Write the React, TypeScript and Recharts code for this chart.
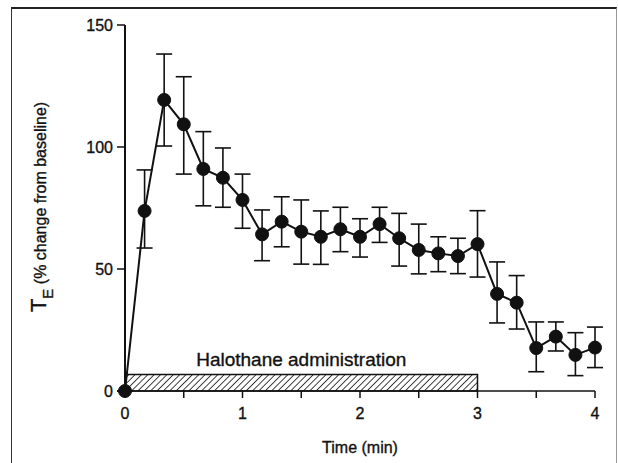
import React from "react";
import {
  LineChart,
  Line,
  XAxis,
  YAxis,
  ErrorBar,
  ReferenceArea,
} from "recharts";

// sampling times (s), mean response and the ends of each error bar (% change)
const seconds = [0, 10, 20, 30, 40, 50, 60, 70, 80, 90, 100, 110, 120, 130, 140, 150, 160, 170, 180, 190, 200, 210, 220, 230, 240];
const means = [0, 73.8, 119.3, 109.3, 91, 87.4, 78.3, 64.2, 69.4, 65.3, 63.2, 66.3, 63.2, 68.4, 62.6, 57.8, 56.4, 55.3, 60.2, 39.8, 36.2, 17.6, 22.3, 14.8, 17.8];
const upper = [0, 90.6, 138.1, 128.8, 106.3, 99.6, 88.9, 74.2, 79.6, 78.3, 73.8, 75.3, 70.6, 75.3, 72.8, 68.4, 63.2, 62.6, 73.9, 52.9, 47.3, 28.3, 28.3, 23.9, 26.2];
const lower = [0, 58.6, 100.4, 88.9, 75.9, 75.3, 66.7, 53.4, 59.1, 52, 51.9, 57.1, 54.9, 60.9, 51.2, 48, 48.9, 48.1, 46.7, 27.9, 25.4, 7.9, 16.4, 6.3, 9.6];

const xTicks = [0, 0.5, 1, 1.5, 2, 2.5, 3, 3.5, 4];
const yTicks = [0, 50, 100, 150];

// halothane bar: start/end (min) and drawn height (% units)
const halothaneStart = 0;
const halothaneEnd = 3;
const halothaneHeight = 6.8;

const data = seconds.map((s, i) => ({
  t: s / 60,
  te: means[i],
  err: [means[i] - lower[i], upper[i] - means[i]],
}));

const font = "'Liberation Sans', Arial, Helvetica, sans-serif";
// the scanned original has slightly heavy type
const ink = { fill: "#111", stroke: "#111", strokeWidth: 0.35 };

function YLabel() {
  return (
    <text
      x={46}
      y={207}
      transform="rotate(-90, 46, 207)"
      textAnchor="middle"
      fontFamily={font}
      {...ink}
    >
      <tspan fontSize={22}>T</tspan>
      <tspan fontSize={15} dy={7}>E</tspan>
      <tspan fontSize={16} dy={-7}> (% change from baseline)</tspan>
    </text>
  );
}

function XLabel() {
  return (
    <text x={360} y={453} textAnchor="middle" fontFamily={font} fontSize={16} {...ink}>
      Time (min)
    </text>
  );
}

export default function App() {
  return (
    <div style={{ position: "absolute", left: 0, top: 0, width: 618, height: 463, background: "#fff" }}>
      <div
        style={{
          position: "absolute",
          left: 11,
          top: 7,
          width: 604,
          height: 470,
          borderTop: "2px solid #222",
          borderLeft: "1.5px solid #333",
          borderRight: "1px solid #999",
        }}
      />
      <div style={{ position: "absolute", left: 0, top: 0 }}>
        <LineChart
          width={618}
          height={463}
          data={data}
          margin={{ top: 25, right: 23, bottom: 22, left: 65 }}
        >
          <defs>
            <pattern
              id="hatch"
              width="4.5"
              height="4.5"
              patternUnits="userSpaceOnUse"
              patternTransform="rotate(45)"
            >
              <rect width="4.5" height="4.5" fill="#fff" />
              <line x1="0" y1="0" x2="0" y2="4.5" stroke="#111" strokeWidth="1.6" />
            </pattern>
          </defs>
          <XAxis
            dataKey="t"
            type="number"
            domain={[0, 4]}
            ticks={xTicks}
            interval={0}
            tickFormatter={(v: number) => (Number.isInteger(v) ? String(v) : "")}
            height={50}
            tickSize={7}
            tickMargin={10}
            axisLine={{ stroke: "#111", strokeWidth: 1.5 }}
            tickLine={{ stroke: "#111", strokeWidth: 1.5 }}
            tick={{ ...ink, fontSize: 16, fontFamily: font }}
            label={<XLabel />}
          />
          <YAxis
            type="number"
            domain={[0, 150]}
            ticks={yTicks}
            interval={0}
            width={60}
            tickSize={8}
            tickMargin={4}
            axisLine={{ stroke: "#111", strokeWidth: 2 }}
            tickLine={{ stroke: "#111", strokeWidth: 1.5 }}
            tick={{ ...ink, fontSize: 16, fontFamily: font }}
            label={<YLabel />}
          />
          <ReferenceArea
            x1={halothaneStart}
            x2={halothaneEnd}
            y1={0}
            y2={halothaneHeight}
            fill="url(#hatch)"
            fillOpacity={1}
            stroke="#111"
            strokeWidth={1.5}
            label={{
              value: "Halothane administration",
              position: "top",
              offset: 8,
              fontSize: 19,
              fontFamily: font,
              ...ink,
            }}
          />
          <Line
            dataKey="te"
            stroke="#111"
            strokeWidth={2}
            dot={{ r: 6.5, fill: "#111", stroke: "#111", strokeWidth: 1 }}
            isAnimationActive={false}
          >
            <ErrorBar dataKey="err" direction="y" width={8} stroke="#111" strokeWidth={1.6} />
          </Line>
        </LineChart>
      </div>
    </div>
  );
}
